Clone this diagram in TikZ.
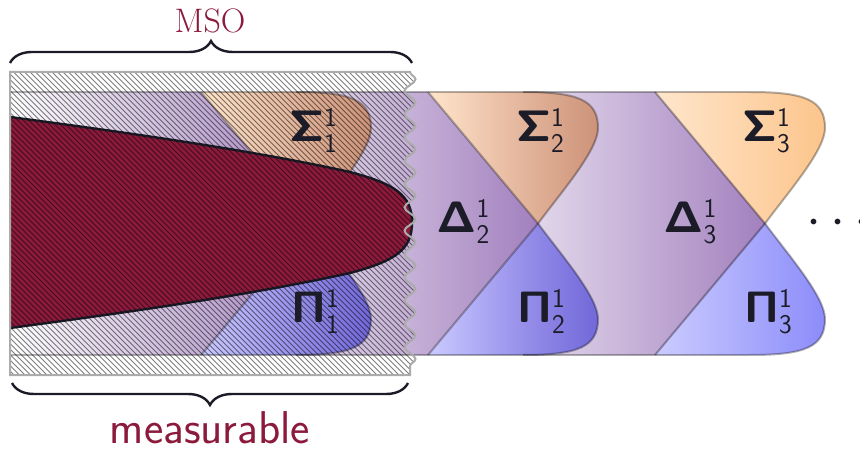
\RequirePackage{fix-cm}
\documentclass[tikz,border=0pt]{standalone}
\usetikzlibrary{decorations.pathreplacing,decorations.pathmorphing}
\DeclareMathAlphabet{\mathsfbx}{OT1}{cmss}{bx}{n}
\DeclareMathAlphabet{\mathsfmd}{OT1}{cmss}{m}{n}
\DeclareMathSizes{44}{44}{27}{20}
\definecolor{maroonc}{RGB}{139,26,60}
\definecolor{deltapurple}{RGB}{162,128,190}
\definecolor{sigL}{RGB}{255,230,204}
\definecolor{sigR}{RGB}{252,197,140}
\definecolor{piL}{RGB}{204,204,255}
\definecolor{piR}{RGB}{140,140,250}
\definecolor{inkdark}{RGB}{28,28,40}
\newcommand{\clslbl}[3]{$\mathsfbx{#1}^{\mathsfmd{#2}}_{\mathsfmd{#3}}$}
\begin{document}
\begin{tikzpicture}[x=1pt,y=-1pt,
  deltareg/.style={left color=white,right color=deltapurple},
  sigreg/.style={left color=sigL,right color=sigR,blend mode=multiply},
  pireg/.style={left color=piL,right color=piR,blend mode=multiply},
  edgeline/.style={draw=black,draw opacity=0.3,line width=2pt},
  hatchline/.style={draw=black,draw opacity=0.5,line width=0.9pt},
  hatchborder/.style={draw=black!33,line width=2pt},
  bracestyle/.style={draw=inkdark,line width=2.4pt,decorate,decoration={brace,amplitude=22pt}},
  classlbl/.style={inner sep=0pt,anchor=base west,text=inkdark,font=\fontsize{44}{48}\selectfont},
  toplbl/.style={inner sep=0pt,anchor=base,text=maroonc,font=\fontsize{34}{40}\selectfont},
  botlbl/.style={inner sep=0pt,anchor=base,text=maroonc,font=\sffamily\fontsize{46}{50}\selectfont},
  dotlbl/.style={inner sep=0pt,anchor=base west,text=inkdark,font=\fontsize{54}{60}\selectfont}]
\useasboundingbox (0,0) rectangle (860,449);

% Delta regions
\path[deltareg] (10,92) -- (201,92) -- (311,223.5) -- (201,355) -- (10,355) -- cycle;
\path[deltareg] (201,92) -- (428,92) -- (538,223.5) -- (428,355) -- (201,355) -- (311,223.5) -- cycle;
\path[deltareg] (428,92) -- (655,92) -- (765,223.5) -- (655,355) -- (428,355) -- (538,223.5) -- cycle;

% Sigma and Pi regions
\foreach \x in {201,428,655}{
  \path[sigreg] (\x,92) -- ({\x+95},92) .. controls ({\x+150},92) and ({\x+170},100) .. ({\x+170},128)
     .. controls ({\x+170},150) and ({\x+135},190) .. ({\x+110},223.5) -- cycle;
  \path[pireg] (\x,355) -- ({\x+95},355) .. controls ({\x+150},355) and ({\x+170},347) .. ({\x+170},319)
     .. controls ({\x+170},297) and ({\x+135},257) .. ({\x+110},223.5) -- cycle;
  \draw[edgeline] ({\x+95},92) .. controls ({\x+150},92) and ({\x+170},100) .. ({\x+170},128)
     .. controls ({\x+170},150) and ({\x+135},190) .. ({\x+110},223.5) -- (\x,92);
  \draw[edgeline] ({\x+95},355) .. controls ({\x+150},355) and ({\x+170},347) .. ({\x+170},319)
     .. controls ({\x+170},297) and ({\x+135},257) .. ({\x+110},223.5) -- (\x,355);
}
\draw[edgeline] (10,92) -- (750,92);
\draw[edgeline] (10,355) -- (750,355);

% measurable (maroon) region
\fill[maroonc] (10,117) .. controls (130,133) and (250,150) .. (350,172)
   .. controls (395,184) and (412,195) .. (412,222.5)
   .. controls (412,250) and (395,261) .. (350,273)
   .. controls (250,295) and (130,312) .. (10,328) -- cycle;
\draw[draw=inkdark,line width=2.4pt] (10,117) .. controls (130,133) and (250,150) .. (350,172)
   .. controls (395,184) and (412,195) .. (412,222.5)
   .. controls (412,250) and (395,261) .. (350,273)
   .. controls (250,295) and (130,312) .. (10,328);

% MSO hatched area
\begin{scope}
  \clip (10,72) -- (410,72) decorate[decoration={snake,segment length=23.3pt,amplitude=5.5pt}] {-- (410,375)} -- (10,375) -- cycle;
  \foreach \c in {-372,-366.5,...,352}{
    \draw[hatchline] ({\c+60},60) -- ({\c+390},390);
  }
\end{scope}
\draw[hatchborder] (10,72) -- (410,72) decorate[decoration={snake,segment length=23.3pt,amplitude=5.5pt}] {-- (410,375)} -- (10,375) -- cycle;

% braces
\coordinate (bl) at (10,63);
\coordinate (br) at (412,63);
\coordinate (cl) at (408,383);
\coordinate (cr) at (12,383);
\draw[bracestyle] (bl) -- (br);
\draw[bracestyle] (cl) -- (cr);
\node[toplbl] (mso) at (210,33) {MSO};
\node[botlbl] (meas) at (210,443) {measurable};

% class labels
\node[classlbl] (s1) at (289,142) {\clslbl{\Sigma}{1}{1}};
\node[classlbl] (p1) at (291,323) {\clslbl{\Pi}{1}{1}};
\node[classlbl] (s2) at (516,142) {\clslbl{\Sigma}{1}{2}};
\node[classlbl] (p2) at (517,323) {\clslbl{\Pi}{1}{2}};
\node[classlbl] (s3) at (742,142) {\clslbl{\Sigma}{1}{3}};
\node[classlbl] (p3) at (744,323) {\clslbl{\Pi}{1}{3}};
\node[classlbl] (d2) at (436,233) {\clslbl{\Delta}{1}{2}};
\node[classlbl] (d3) at (663,233) {\clslbl{\Delta}{1}{3}};
\node[dotlbl] (dots) at (806.5,235.5) {$\cdots$};
\end{tikzpicture}
\end{document}
